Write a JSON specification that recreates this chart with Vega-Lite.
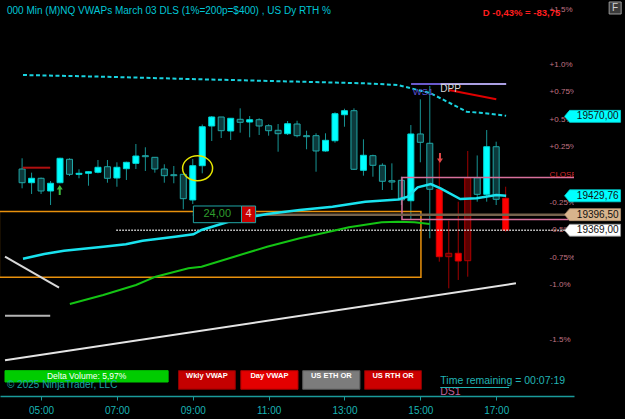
{
  "$schema": "https://vega.github.io/schema/vega-lite/v6.json",
  "width": 574,
  "height": 396,
  "autosize": {"type": "none"},
  "padding": {"left": 0, "top": 0, "right": 51, "bottom": 23},
  "background": "#000000",
  "config": {
    "view": {"stroke": null},
    "font": "Liberation Sans",
    "axis": {"grid": false, "domainColor": "#1a9a9a", "tickColor": "#1a9a9a", "labelColor": "#1ab4b4", "labelFont": "Liberation Sans", "labelFontSize": 10, "title": null, "labelOverlap": false}
  },
  "resolve": {"scale": {"color": "independent", "fill": "independent", "stroke": "independent"}},
  "datasets": {
    "candles": [
      {"t":4.5,"o":19477.1,"h":19496,"l":19443,"c":19452.9,"k":"dn"},
      {"t":4.75,"o":19452.9,"h":19470.6,"l":19433,"c":19460.7,"k":"up"},
      {"t":5,"o":19460.7,"h":19462,"l":19433,"c":19438.3,"k":"dn"},
      {"t":5.25,"o":19438.3,"h":19455.9,"l":19413.5,"c":19451.9,"k":"up"},
      {"t":5.5,"o":19452.9,"h":19497,"l":19451.9,"c":19496,"k":"up"},
      {"t":5.75,"o":19494.2,"h":19496,"l":19464.7,"c":19467.7,"k":"dn"},
      {"t":6,"o":19467.7,"h":19476.6,"l":19460.7,"c":19469.5,"k":"up"},
      {"t":6.25,"o":19469.5,"h":19473,"l":19447.6,"c":19472.3,"k":"up"},
      {"t":6.5,"o":19471.3,"h":19493,"l":19469.5,"c":19480.1,"k":"up"},
      {"t":6.75,"o":19481.1,"h":19493,"l":19452.9,"c":19460.7,"k":"dn"},
      {"t":7,"o":19461.2,"h":19488.9,"l":19445.8,"c":19480.1,"k":"up"},
      {"t":7.25,"o":19477.6,"h":19490,"l":19457.7,"c":19488.9,"k":"up"},
      {"t":7.5,"o":19487.1,"h":19521.2,"l":19477.1,"c":19500,"k":"up"},
      {"t":7.75,"o":19500.6,"h":19515.4,"l":19473.6,"c":19498.8,"k":"dn"},
      {"t":8,"o":19497.7,"h":19497.7,"l":19470.6,"c":19477.1,"k":"dn"},
      {"t":8.25,"o":19477.1,"h":19485.4,"l":19452.9,"c":19465.3,"k":"dn"},
      {"t":8.5,"o":19467,"h":19482.4,"l":19451.9,"c":19465.3,"k":"dn"},
      {"t":8.75,"o":19467.7,"h":19467.7,"l":19406,"c":19424.7,"k":"dn"},
      {"t":9,"o":19422.4,"h":19494.7,"l":19415.3,"c":19482.9,"k":"up"},
      {"t":9.25,"o":19482.9,"h":19555.6,"l":19469.5,"c":19551.7,"k":"up"},
      {"t":9.5,"o":19553,"h":19570.6,"l":19526.5,"c":19568.9,"k":"up"},
      {"t":9.75,"o":19568.9,"h":19568.9,"l":19531.8,"c":19544.7,"k":"dn"},
      {"t":10,"o":19544.2,"h":19566.6,"l":19528.3,"c":19566.6,"k":"up"},
      {"t":10.25,"o":19564.8,"h":19584.2,"l":19541.2,"c":19559.5,"k":"dn"},
      {"t":10.5,"o":19560,"h":19570.6,"l":19533,"c":19564.1,"k":"up"},
      {"t":10.75,"o":19564.1,"h":19566.6,"l":19537.1,"c":19553,"k":"dn"},
      {"t":11,"o":19553.5,"h":19556,"l":19535.9,"c":19544.7,"k":"dn"},
      {"t":11.25,"o":19545.4,"h":19556.5,"l":19507.6,"c":19539.4,"k":"dn"},
      {"t":11.5,"o":19539.4,"h":19561.8,"l":19537.1,"c":19557,"k":"up"},
      {"t":11.75,"o":19556.5,"h":19562.3,"l":19533,"c":19535.9,"k":"dn"},
      {"t":12,"o":19535.9,"h":19544.7,"l":19511.9,"c":19534.1,"k":"dn"},
      {"t":12.25,"o":19535.9,"h":19540.1,"l":19472.3,"c":19508.9,"k":"dn"},
      {"t":12.5,"o":19508.9,"h":19540.1,"l":19507.6,"c":19527.7,"k":"up"},
      {"t":12.75,"o":19527,"h":19577.2,"l":19523.5,"c":19574.7,"k":"up"},
      {"t":13,"o":19572.9,"h":19583.5,"l":19551.7,"c":19580,"k":"up"},
      {"t":13.25,"o":19580,"h":19584.2,"l":19475.3,"c":19476.6,"k":"dn"},
      {"t":13.5,"o":19474.8,"h":19529.5,"l":19465.3,"c":19501.3,"k":"up"},
      {"t":13.75,"o":19500.6,"h":19502.3,"l":19463.5,"c":19483.6,"k":"dn"},
      {"t":14,"o":19483.6,"h":19487.1,"l":19440,"c":19455.4,"k":"dn"},
      {"t":14.25,"o":19456.4,"h":19487.1,"l":19440,"c":19454.1,"k":"dn"},
      {"t":14.5,"o":19457.1,"h":19463.5,"l":19413.5,"c":19422.4,"k":"dn"},
      {"t":14.75,"o":19421.1,"h":19554.7,"l":19387.1,"c":19538.9,"k":"up"},
      {"t":15,"o":19538.9,"h":19600.1,"l":19488.9,"c":19524.2,"k":"dn"},
      {"t":15.25,"o":19522.5,"h":19623.6,"l":19354.8,"c":19441.3,"k":"dn"},
      {"t":15.5,"o":19441.3,"h":19490,"l":19313.5,"c":19322.3,"k":"rdn"},
      {"t":15.75,"o":19322.3,"h":19385.8,"l":19266.5,"c":19328.3,"k":"rup"},
      {"t":16,"o":19328.3,"h":19419.4,"l":19281.2,"c":19314.7,"k":"rdn"},
      {"t":16.25,"o":19315.2,"h":19508.9,"l":19287,"c":19461.7,"k":"rup"},
      {"t":16.5,"o":19461.7,"h":19501,"l":19419.4,"c":19432.4,"k":"dn"},
      {"t":16.75,"o":19432.4,"h":19545.9,"l":19419.4,"c":19516.4,"k":"up"},
      {"t":17,"o":19516.4,"h":19525.3,"l":19413.5,"c":19423.6,"k":"dn"},
      {"t":17.25,"o":19425.4,"h":19445.8,"l":19366.4,"c":19369,"k":"rdn"}
    ],
    "lines": [
      {"id":"wl","t":4.049,"p":19139.4},{"id":"wl","t":17.521,"p":19275.3},
      {"id":"wd","t":4.049,"p":19322.3},{"id":"wd","t":5.474,"p":19267.6},
      {"id":"gh","t":4.049,"p":19218.2},{"id":"gh","t":5.241,"p":19218.2},
      {"id":"rl","t":4.516,"p":19479.4},{"id":"rl","t":5.241,"p":19479.4},
      {"id":"ws","t":14.756,"p":19627.1},{"id":"ws","t":17.262,"p":19627.1},
      {"id":"dp","t":15.534,"p":19627.1},{"id":"dp","t":17.262,"p":19627.1},
      {"id":"rr","t":15.751,"p":19616.5},{"id":"rr","t":17.003,"p":19600.1},
      {"id":"gr","t":5.759,"p":19238.8},{"id":"gr","t":6.64,"p":19254.7},{"id":"gr","t":7.503,"p":19272.3},
      {"id":"gr","t":8.021,"p":19287},{"id":"gr","t":8.886,"p":19301.8},{"id":"gr","t":9.231,"p":19304.6},
      {"id":"gr","t":10.093,"p":19322.3},{"id":"gr","t":10.959,"p":19339.9},{"id":"gr","t":11.821,"p":19354.8},
      {"id":"gr","t":12.684,"p":19367.7},{"id":"gr","t":13.117,"p":19374.2},{"id":"gr","t":13.979,"p":19383},
      {"id":"gr","t":14.412,"p":19384.1},{"id":"gr","t":14.845,"p":19383},{"id":"gr","t":15.249,"p":19380}
    ],
    "dvwap": [
      {"t":4.523,"p":19318.8},{"t":5.085,"p":19327.1},{"t":5.604,"p":19332.9},{"t":6.64,"p":19339.9},
      {"t":7.236,"p":19344.2},{"t":7.676,"p":19350.5},{"t":8.531,"p":19357.6},{"t":9.016,"p":19361.8},
      {"t":9.231,"p":19369.4},{"t":10.093,"p":19387.1},{"t":10.959,"p":19397.7},{"t":11.821,"p":19404.7},
      {"t":12.684,"p":19410.5},{"t":13.549,"p":19419.4},{"t":14.412,"p":19423.3},{"t":14.671,"p":19428.2},
      {"t":14.93,"p":19444.8},{"t":15.275,"p":19450.6},{"t":15.534,"p":19443},{"t":16.052,"p":19424.1},
      {"t":16.484,"p":19425.4},{"t":17.003,"p":19431.2},{"t":17.262,"p":19429.8}
    ],
    "wvwap": [
      {"t":4.523,"p":19643},{"t":6.64,"p":19640},{"t":9.231,"p":19635.4},{"t":11.822,"p":19631.2},
      {"t":13.549,"p":19628.3},{"t":14.417,"p":19625.3},{"t":14.756,"p":19619.5},{"t":15.275,"p":19610.7},
      {"t":15.707,"p":19595.9},{"t":16.225,"p":19578.2},{"t":16.57,"p":19576.5},{"t":17.262,"p":19571}
    ]
  },
  "encoding": {
    "x": {"field": "t", "type": "quantitative", "scale": {"domain": [4.049, 18.92], "nice": false, "zero": false},
      "axis": {"values": [5, 7, 9, 11, 13, 15, 17], "labelExpr": "(datum.value<10?'0':'')+datum.value+':00'", "tickSize": 4, "labelPadding": 5, "domainWidth": 1.5}},
    "y": {"field": "p", "type": "quantitative", "scale": {"domain": [19076.4, 19775.4], "nice": false, "zero": false},
      "axis": {"orient": "right", "values": [19100,19150,19200,19250,19300,19350,19400,19450,19500,19550,19600,19650,19700,19750], "labelExpr": "datum.value>19725?'':replace(format(datum.value,'.2f'),'.',',')", "tickSize": 5, "labelPadding": 2, "domainWidth": 1.5}}
  },
  "layer": [
    {"data": {"name": "candles"}, "mark": {"type": "rule", "strokeWidth": 1},
     "encoding": {"y": {"field": "l", "type": "quantitative", "scale": {"domain": [19076.4, 19775.4], "nice": false, "zero": false}, "axis": null},
       "y2": {"field": "h"},
       "color": {"field": "k", "type": "nominal", "scale": {"domain": ["up","dn","rup","rdn"], "range": ["#179494","#179494","#a00000","#a00000"]}, "legend": null}}},
    {"data": {"name": "candles"}, "mark": {"type": "bar", "width": 6, "strokeWidth": 1},
     "encoding": {"y": {"field": "o", "type": "quantitative", "scale": {"domain": [19076.4, 19775.4], "nice": false, "zero": false}, "axis": null},
       "y2": {"field": "c"},
       "fill": {"field": "k", "type": "nominal", "scale": {"domain": ["up","dn","rup","rdn"], "range": ["#00ffff","#0c3a3c","#5c0000","#ff0000"]}, "legend": null},
       "stroke": {"field": "k", "type": "nominal", "scale": {"domain": ["up","dn","rup","rdn"], "range": ["#00d8d8","#20a8a8","#b00000","#d00000"]}, "legend": null}}},
    {"data": {"values": [{"t":3.9,"t2":15.016,"p":19402.1,"p2":19286.2,"id":"or"},{"t":14.516,"t2":19.3,"p":19462.1,"p2":19388,"id":"pk"}]},
     "mark": {"type": "rect", "filled": false, "clip": true, "strokeWidth": 1.5},
     "encoding": {"x2": {"field": "t2"}, "y2": {"field": "p2"},
       "color": {"field": "id", "type": "nominal", "scale": {"domain": ["or","pk"], "range": ["#e8900c","#d8709c"]}, "legend": null}}},
    {"data": {"values": [{"t":9.0,"t2":19.3,"p":19396.5}]}, "mark": {"type": "rule", "clip": true, "color": "#75624c", "strokeWidth": 2.5},
     "encoding": {"x2": {"field": "t2"}}},
    {"data": {"values": [{"t":6.984,"t2":19.3,"p":19369}]}, "mark": {"type": "rule", "clip": true, "color": "#e6e6e6", "strokeWidth": 1.5, "strokeDash": [1.5, 1.5]},
     "encoding": {"x2": {"field": "t2"}}},
    {"data": {"name": "lines"}, "mark": {"type": "line", "clip": true, "strokeWidth": 2},
     "encoding": {"color": {"field": "id", "type": "nominal", "scale": {"domain": ["wl","wd","gh","rl","ws","dp","rr","gr"], "range": ["#e4e4e4","#d8d8d8","#b4b4b4","#b01010","#6a5acd","#aa9fe2","#e00000","#14c414"]}, "legend": null}}},
    {"data": {"name": "dvwap"}, "mark": {"type": "line", "clip": true, "strokeWidth": 2.5, "color": "#19e3ef"}, "encoding": {}},
    {"data": {"name": "wvwap"}, "mark": {"type": "line", "clip": true, "strokeWidth": 2, "color": "#19d3e0", "strokeDash": [4, 2.5]}, "encoding": {}},
    {"data": {"values": [
      {"p":19758.5,"txt":"+1.5%","k":"pct"},{"p":19661.2,"txt":"+1.0%","k":"pct"},{"p":19612.5,"txt":"+0.75%","k":"pct"},
      {"p":19563.8,"txt":"+0.5%","k":"pct"},{"p":19515.2,"txt":"+0.25%","k":"pct"},{"p":19466.5,"txt":"CLOSE","k":"cl"},
      {"p":19417.8,"txt":"-0.25%","k":"pct"},{"p":19369.2,"txt":"-0.5%","k":"pct"},{"p":19320.5,"txt":"-0.75%","k":"pct"},
      {"p":19271.9,"txt":"-1.0%","k":"pct"},{"p":19174.5,"txt":"-1.5%","k":"pct"}]},
     "transform": [{"calculate": "18.409", "as": "t"}],
     "mark": {"type": "text", "align": "left", "baseline": "middle", "fontSize": 8, "clip": true},
     "encoding": {"text": {"field": "txt"}, "color": {"field": "k", "type": "nominal", "scale": {"domain": ["pct","cl"], "range": ["#c27484","#d42a2a"]}, "legend": null}}},
    {"data": {"values": [
      {"t":4.049,"t2":8.35,"p":19121.1,"p2":19101.1,"id":"dv"},
      {"t":8.624,"t2":10.122,"p":19121.1,"p2":19088.3,"id":"wk"},
      {"t":10.267,"t2":11.775,"p":19121.1,"p2":19088.3,"id":"dy"},
      {"t":11.899,"t2":13.407,"p":19121.1,"p2":19088.3,"id":"eth"},
      {"t":13.531,"t2":15.028,"p":19121.1,"p2":19088.3,"id":"rth"},
      {"t":9.016,"t2":10.285,"p":19411.8,"p2":19382.3,"id":"b24"},
      {"t":10.285,"t2":10.656,"p":19411.8,"p2":19382.3,"id":"b4"}]},
     "mark": {"type": "rect", "strokeWidth": 1},
     "encoding": {"x2": {"field": "t2"}, "y2": {"field": "p2"},
       "fill": {"field": "id", "type": "nominal", "scale": {"domain": ["dv","wk","dy","eth","rth","b24","b4"], "range": ["#00cc00","#c40000","#e40000","#7c7c7c","#cc0000","#000000","#c80000"]}, "legend": null},
       "stroke": {"field": "id", "type": "nominal", "scale": {"domain": ["dv","wk","dy","eth","rth","b24","b4"], "range": ["#00cc00","#8a0000","#a80000","#5a5a5a","#8a0000","#1fa5a5","#1fa5a5"]}, "legend": null}}},
    {"data": {"values": [{"t":4.101,"p":19756,"txt":"000 Min (M)NQ VWAPs March 03 DLS (1%=200p=$400) , US Dy RTH %"}]},
     "mark": {"type": "text", "align": "left", "baseline": "middle", "fontSize": 10, "color": "#00c6d6"}, "encoding": {"text": {"field": "txt"}}},
    {"data": {"values": [{"t":18.689,"p":19752.4,"txt":"D -0,43% = -83,75"}]},
     "mark": {"type": "text", "align": "right", "baseline": "middle", "fontSize": 9.5, "fontWeight": "bold", "color": "#ff1e1e"}, "encoding": {"text": {"field": "txt"}}},
    {"data": {"values": [{"t":14.8,"p":19613,"txt":"WS1"}]},
     "mark": {"type": "text", "align": "left", "baseline": "middle", "fontSize": 9.5, "color": "#5b50d2"}, "encoding": {"text": {"field": "txt"}}},
    {"data": {"values": [{"t":15.526,"p":19617.8,"txt":"DPP"}]},
     "mark": {"type": "text", "align": "left", "baseline": "middle", "fontSize": 10, "color": "#d6d6d6"}, "encoding": {"text": {"field": "txt"}}},
    {"data": {"values": [{"t":9.645,"p":19396.8,"txt":"24,00"}]},
     "mark": {"type": "text", "align": "center", "baseline": "middle", "fontSize": 11, "color": "#2e9e2e"}, "encoding": {"text": {"field": "txt"}}},
    {"data": {"values": [{"t":10.469,"p":19396.8,"txt":"4"}]},
     "mark": {"type": "text", "align": "center", "baseline": "middle", "fontSize": 11, "color": "#f2c8c8"}, "encoding": {"text": {"field": "txt"}}},
    {"data": {"values": [{"t":6.2,"p":19111,"txt":"Delta Volume: 5,97%"}]},
     "mark": {"type": "text", "align": "center", "baseline": "middle", "fontSize": 8.5, "color": "#ffffff"}, "encoding": {"text": {"field": "txt"}}},
    {"data": {"values": [{"t":4.101,"p":19096,"txt":"© 2025 NinjaTrader, LLC"}]},
     "mark": {"type": "text", "align": "left", "baseline": "middle", "fontSize": 10, "color": "#1aa5a5"}, "encoding": {"text": {"field": "txt"}}},
    {"data": {"values": [{"t":9.373,"p":19112.5,"txt":"Wkly VWAP"},{"t":11.021,"p":19112.5,"txt":"Day VWAP"},{"t":12.653,"p":19112.5,"txt":"US ETH OR"},{"t":14.28,"p":19112.5,"txt":"US RTH OR"}]},
     "mark": {"type": "text", "align": "center", "baseline": "middle", "fontSize": 7.5, "fontWeight": "bold", "color": "#ffffff"}, "encoding": {"text": {"field": "txt"}}},
    {"data": {"values": [{"t":15.526,"p":19102.9,"txt":"Time remaining = 00:07:19"}]},
     "mark": {"type": "text", "align": "left", "baseline": "middle", "fontSize": 10.5, "color": "#20b4b4"}, "encoding": {"text": {"field": "txt"}}},
    {"data": {"values": [{"t":15.526,"p":19083.5,"txt":"DS1"}]},
     "mark": {"type": "text", "align": "left", "baseline": "middle", "fontSize": 10.5, "color": "#c0609a"}, "encoding": {"text": {"field": "txt"}}},
    {"data": {"values": [{"t":15.526,"t2":17.34,"p":19091.4}]}, "mark": {"type": "rule", "color": "#20b4b4", "strokeWidth": 1},
     "encoding": {"x2": {"field": "t2"}}},
    {"data": {"values": [{"t":9.127,"p":19478.3}]},
     "mark": {"type": "point", "shape": "M-1,0C-1,-0.458,-0.552,-0.83,0,-0.83C0.552,-0.83,1,-0.458,1,0C1,0.458,0.552,0.83,0,0.83C-0.552,0.83,-1,0.458,-1,0Z", "size": 900, "filled": false, "color": "#e6e600", "strokeWidth": 1.5, "opacity": 1}, "encoding": {}},
    {"data": {"values": [{"t":5.492,"p":19440}]},
     "mark": {"type": "point", "shape": "M0,-1L0.6,-0.1L0.2,-0.1L0.2,1L-0.2,1L-0.2,-0.1L-0.6,-0.1Z", "size": 100, "filled": true, "color": "#3cb83c", "opacity": 1}, "encoding": {}},
    {"data": {"values": [{"t":15.518,"p":19496.5}]},
     "mark": {"type": "point", "shape": "M0,1L0.6,0.1L0.2,0.1L0.2,-1L-0.2,-1L-0.2,0.1L-0.6,0.1Z", "size": 100, "filled": true, "color": "#e04848", "opacity": 1}, "encoding": {}},
    {"data": {"values": [{"t":19.541,"p":19570,"k":"cy"},{"t":19.541,"p":19429.76,"k":"cy"},{"t":19.541,"p":19396.5,"k":"tan"},{"t":19.541,"p":19369,"k":"wh"}]},
     "mark": {"type": "point", "shape": "M-1,0L-0.82,-0.214L1,-0.214L1,0.214L-0.82,0.214Z", "size": 3136, "filled": true, "opacity": 1, "strokeWidth": 0.8},
     "encoding": {"fill": {"field": "k", "type": "nominal", "scale": {"domain": ["cy","tan","wh"], "range": ["#00ffff","#d8b48c","#ffffff"]}, "legend": null},
       "stroke": {"field": "k", "type": "nominal", "scale": {"domain": ["cy","tan","wh"], "range": ["#00d0d0","#b09070","#909090"]}, "legend": null}}},
    {"data": {"values": [{"t":19.127,"p":19570,"txt":"19570,00"},{"t":19.127,"p":19429.76,"txt":"19429,76"},{"t":19.127,"p":19396.5,"txt":"19396,50"},{"t":19.127,"p":19369,"txt":"19369,00"}]},
     "mark": {"type": "text", "align": "left", "baseline": "middle", "fontSize": 10, "color": "#101010"}, "encoding": {"text": {"field": "txt"}}},
    {"data": {"values": [{"t":20.137,"p":19761.3}]},
     "mark": {"type": "point", "shape": "square", "size": 144, "filled": true, "color": "#3a3a3a", "stroke": "#9a9a9a", "strokeWidth": 1, "opacity": 1}, "encoding": {}},
    {"data": {"values": [{"t":20.137,"p":19761.3,"txt":"F"}]},
     "mark": {"type": "text", "align": "center", "baseline": "middle", "fontSize": 10, "color": "#d0d0d0"}, "encoding": {"text": {"field": "txt"}}}
  ]
}
